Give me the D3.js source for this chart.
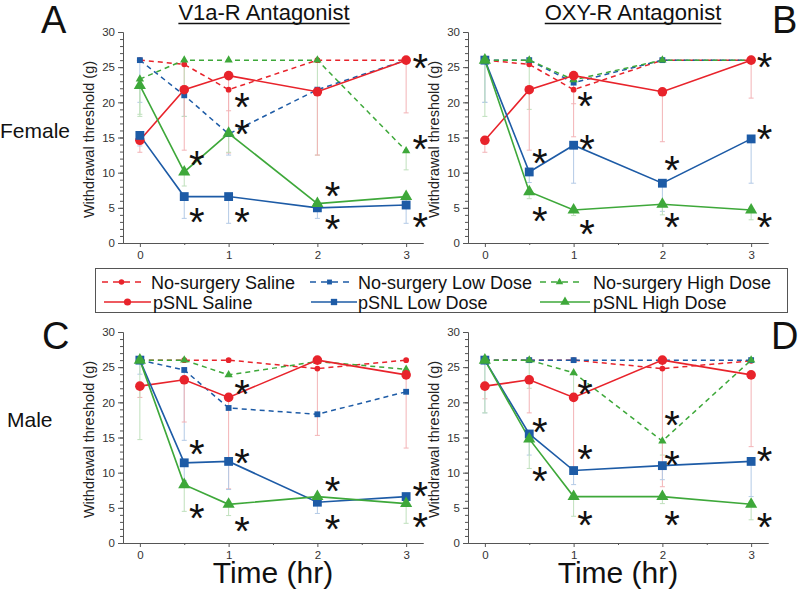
<!DOCTYPE html>
<html><head><meta charset="utf-8">
<script src="https://cdn.jsdelivr.net/npm/d3@7"></script>
<style>
html,body{margin:0;padding:0;background:#fff;}
svg{display:block;font-family:"Liberation Sans",Arial,sans-serif;}
</style></head>
<body><svg id="chart" width="800" height="590"></svg>
<script>
// ---------- DATA ----------
const times = [0, 0.5, 1, 2, 3];
const seriesNames = ["No-surgery Saline", "No-surgery Low Dose", "No-surgery High Dose",
                     "pSNL Saline", "pSNL Low Dose", "pSNL High Dose"];
const xTickValues = [0, 1, 2, 3];
const yTickValues = [0, 5, 10, 15, 20, 25, 30];

// Panel A : Female, V1a-R antagonist
const A_nsSaline = [26, 25.4, 21.8, 26, 26];
const A_nsLow    = [26, 21.0, 15.5, 21.8, 26];
const A_nsHigh   = [23.3, 26, 26, 26, 13.1];
const A_pSaline  = [14.6, 21.8, 23.8, 21.5, 26];
const A_pLow     = [15.3, 6.6, 6.6, 5.0, 5.4];
const A_pHigh    = [22.4, 10.1, 15.6, 5.6, 6.6];
const A_nsSalineErr = [0, 3, 3, 0, 0];
const A_nsLowErr    = [6, 3, 3, 0, 0];
const A_nsHighErr   = [5, 8, 0, 13.5, 2.7];
const A_pSalineErr  = [1.7, 8.6, 11, 9, 7.5];
const A_pLowErr     = [1.5, 3.1, 3.8, 1.5, 2.6];
const A_pHighErr    = [4.4, 2, 2.7, 1, 1.5];
const A_starT = [0.64, 0.64, 1.15, 1.15, 1.15, 2.17, 2.17, 3.16, 3.16, 3.16];
const A_starV = [12.3, 4.2, 20.6, 16.8, 4.2, 8.0, 3.2, 26.1, 14.6, 3.5];

// Panel B : Female, OXY-R antagonist
const B_nsSaline = [26, 25.4, 21.8, 26, 26];
const B_nsLow    = [26, 26, 22.8, 26, 26];
const B_nsHigh   = [26, 26, 23.2, 26, 26];
const B_pSaline  = [14.6, 21.8, 23.8, 21.5, 26];
const B_pLow     = [26, 10.1, 13.9, 8.5, 14.8];
const B_pHigh    = [26, 7.3, 4.7, 5.5, 4.7];
const B_nsSalineErr = [0, 0, 2, 0, 0];
const B_nsLowErr    = [6, 0, 0, 0, 0];
const B_nsHighErr   = [0, 7, 0, 0, 0];
const B_pSalineErr  = [1.7, 8.6, 8.7, 7.1, 5.4];
const B_pLowErr     = [6, 1.5, 5.4, 4, 6.3];
const B_pHighErr    = [8, 1, 0.8, 1.5, 1.4];
const B_starT = [0.62, 0.62, 1.13, 1.15, 1.15, 2.11, 2.11, 3.15, 3.15, 3.15];
const B_starV = [12.7, 4.4, 20.8, 14.6, 2.5, 11.6, 3.5, 26.3, 16.1, 3.5];

// Panel C : Male, V1a-R antagonist
const C_nsSaline = [26, 26, 26, 24.8, 26];
const C_nsLow    = [26, 24.6, 19.2, 18.3, 21.5];
const C_nsHigh   = [26, 26, 23.9, 25.8, 24.7];
const C_pSaline  = [22.3, 23.2, 20.7, 26, 23.9];
const C_pLow     = [26, 11.4, 11.6, 5.8, 6.6];
const C_pHigh    = [26, 8.3, 5.5, 6.6, 5.6];
const C_nsSalineErr = [0, 0, 0, 9.5, 0];
const C_nsLowErr    = [2, 10, 0, 0, 0];
const C_nsHighErr   = [0, 0, 0, 0, 0];
const C_pSalineErr  = [1.6, 6, 13, 0, 10.4];
const C_pLowErr     = [0, 2.5, 4, 1.6, 1];
const C_pHighErr    = [11.3, 3.8, 1.6, 1, 2.8];
const C_starT = [0.64, 0.64, 1.15, 1.15, 1.15, 2.17, 2.17, 3.16, 3.16];
const C_starV = [13.9, 4.9, 22.5, 12.7, 3.0, 8.7, 3.2, 8.0, 3.5];

// Panel D : Male, OXY-R antagonist
const D_nsSaline = [26, 26, 26, 24.8, 25.9];
const D_nsLow    = [26, 26, 26, 26, 26];
const D_nsHigh   = [26, 26, 24.2, 14.5, 26];
const D_pSaline  = [22.3, 23.2, 20.7, 26, 23.9];
const D_pLow     = [26, 15.5, 10.3, 11.0, 11.6];
const D_pHigh    = [26, 14.8, 6.6, 6.6, 5.5];
const D_nsSalineErr = [0, 0, 0, 0, 0];
const D_nsLowErr    = [0, 0, 0, 0, 0];
const D_nsHighErr   = [0, 4, 3, 2, 0];
const D_pSalineErr  = [1.8, 4.7, 10.8, 18, 10.2];
const D_pLowErr     = [7.5, 3, 2, 2, 5];
const D_pHighErr    = [7.5, 4.2, 2.8, 1, 2.2];
const D_starT = [0.62, 0.62, 1.13, 1.13, 1.13, 2.11, 2.11, 2.11, 3.15, 3.15];
const D_starV = [17.0, 10.1, 22.5, 13.2, 3.9, 18.0, 12.3, 3.9, 13.0, 3.5];

// ---------- STYLE ----------
const RED = "#e8232b", BLUE = "#1d5ba6", GREEN = "#3ea83a";
const seriesStyle = [
  {color: RED,   dashed: true,  shape: d3.symbolCircle,   size: 26},
  {color: BLUE,  dashed: true,  shape: d3.symbolSquare,   size: 34},
  {color: GREEN, dashed: true,  shape: d3.symbolTriangle, size: 30},
  {color: RED,   dashed: false, shape: d3.symbolCircle,   size: 72},
  {color: BLUE,  dashed: false, shape: d3.symbolSquare,   size: 78},
  {color: GREEN, dashed: false, shape: d3.symbolTriangle, size: 64}
];
const errColor = [ "#f3b3b6", "#b3cae6", "#bfe0bc", "#f3b3b6", "#b3cae6", "#bfe0bc" ];

const panels = [
  {id: "A", left: 123, right: 423, top: 32, bottom: 243,
   vals: [A_nsSaline, A_nsLow, A_nsHigh, A_pSaline, A_pLow, A_pHigh],
   errs: [A_nsSalineErr, A_nsLowErr, A_nsHighErr, A_pSalineErr, A_pLowErr, A_pHighErr],
   starT: A_starT, starV: A_starV, showXTitle: false},
  {id: "B", left: 468, right: 768, top: 32, bottom: 243,
   vals: [B_nsSaline, B_nsLow, B_nsHigh, B_pSaline, B_pLow, B_pHigh],
   errs: [B_nsSalineErr, B_nsLowErr, B_nsHighErr, B_pSalineErr, B_pLowErr, B_pHighErr],
   starT: B_starT, starV: B_starV, showXTitle: false},
  {id: "C", left: 123, right: 423, top: 332, bottom: 543,
   vals: [C_nsSaline, C_nsLow, C_nsHigh, C_pSaline, C_pLow, C_pHigh],
   errs: [C_nsSalineErr, C_nsLowErr, C_nsHighErr, C_pSalineErr, C_pLowErr, C_pHighErr],
   starT: C_starT, starV: C_starV, showXTitle: true},
  {id: "D", left: 468, right: 768, top: 332, bottom: 543,
   vals: [D_nsSaline, D_nsLow, D_nsHigh, D_pSaline, D_pLow, D_pHigh],
   errs: [D_nsSalineErr, D_nsLowErr, D_nsHighErr, D_pSalineErr, D_pLowErr, D_pHighErr],
   starT: D_starT, starV: D_starV, showXTitle: true}
];

const svg = d3.select("#chart");
const AXIS = "#555";

panels.forEach(p => {
  const x = d3.scaleLinear().domain([-0.19, 3.19]).range([p.left, p.right]);
  const y = d3.scaleLinear().domain([0, 30]).range([p.bottom, p.top]);
  const g = svg.append("g");

  // axes
  const yMinor = g.append("g").attr("transform", `translate(${p.left},0)`)
    .call(d3.axisLeft(y).tickValues(d3.range(0, 31, 1)).tickSize(3).tickSizeOuter(0).tickFormat(""));
  const yMajor = g.append("g").attr("transform", `translate(${p.left},0)`)
    .call(d3.axisLeft(y).tickValues(yTickValues).tickSize(5).tickSizeOuter(0).tickPadding(3).tickFormat(d3.format("d")));
  const xMinor = g.append("g").attr("transform", `translate(0,${p.bottom})`)
    .call(d3.axisBottom(x).tickValues([0.5, 1.5, 2.5]).tickSize(2).tickSizeOuter(0).tickFormat(""));
  const xMajor = g.append("g").attr("transform", `translate(0,${p.bottom})`)
    .call(d3.axisBottom(x).tickValues(xTickValues).tickSize(4).tickSizeOuter(0).tickPadding(4).tickFormat(d3.format("d")));
  [yMinor, yMajor, xMinor, xMajor].forEach(a => {
    a.selectAll("path,line").attr("stroke", AXIS).attr("stroke-width", 1);
    a.selectAll("text").attr("fill", "#333").attr("font-size", 11.5)
      .attr("font-family", "'Liberation Sans',Arial,sans-serif");
  });

  // y-axis title
  g.append("text")
    .attr("transform", `translate(${p.left - 29},${(p.top + p.bottom) / 2 + 2}) rotate(-90)`)
    .attr("text-anchor", "middle").attr("font-size", 14.5).attr("fill", "#222")
    .text("Withdrawal threshold (g)");

  // error bars
  p.vals.forEach((vals, si) => {
    const errs = p.errs[si];
    const eg = g.append("g").attr("stroke", errColor[si]).attr("stroke-width", 1);
    vals.forEach((v, i) => {
      if (!errs[i]) return;
      const cx = x(times[i]);
      eg.append("line").attr("x1", cx).attr("x2", cx).attr("y1", y(v)).attr("y2", y(v - errs[i]));
      eg.append("line").attr("x1", cx - 2.5).attr("x2", cx + 2.5).attr("y1", y(v - errs[i])).attr("y2", y(v - errs[i]));
    });
  });

  // lines
  const line = d3.line().x((d, i) => x(times[i])).y(d => y(d));
  p.vals.forEach((vals, si) => {
    const st = seriesStyle[si];
    g.append("path").attr("d", line(vals)).attr("fill", "none")
      .attr("stroke", st.color).attr("stroke-width", st.dashed ? 1.5 : 1.6)
      .attr("stroke-dasharray", st.dashed ? "5,4" : null);
  });
  // markers
  p.vals.forEach((vals, si) => {
    const st = seriesStyle[si];
    const sym = d3.symbol().type(st.shape).size(st.size);
    g.append("g").selectAll("path").data(vals).join("path")
      .attr("d", sym)
      .attr("transform", (d, i) => `translate(${x(times[i])},${y(d)})`)
      .attr("fill", st.color);
  });

  // significance stars
  const fs = 40;
  g.append("g").selectAll("text").data(p.starT).join("text")
    .attr("x", d => x(d))
    .attr("y", (d, i) => y(p.starV[i]) + 0.575 * fs)
    .attr("text-anchor", "middle").attr("font-size", fs).attr("fill", "#111")
    .text("*");

  if (p.showXTitle) {
    g.append("text").attr("x", (p.left + p.right) / 2).attr("y", 583)
      .attr("text-anchor", "middle").attr("font-size", 30).attr("fill", "#111")
      .text("Time (hr)");
  }
});

// panel letters
const letters = [
  {t: "A", x: 41, y: 33},
  {t: "B", x: 772, y: 33},
  {t: "C", x: 42, y: 349},
  {t: "D", x: 771, y: 349}
];
letters.forEach(l => svg.append("text").attr("x", l.x).attr("y", l.y)
  .attr("font-size", 38).attr("fill", "#111").text(l.t));

// column titles with underline
[{t: "V1a-R Antagonist", cx: 264}, {t: "OXY-R Antagonist", cx: 633}].forEach(ti => {
  const tx = svg.append("text").attr("x", ti.cx).attr("y", 20).attr("text-anchor", "middle")
    .attr("font-size", 22).attr("fill", "#111").text(ti.t);
  const w = tx.node().getComputedTextLength();
  svg.append("line").attr("x1", ti.cx - w / 2).attr("x2", ti.cx + w / 2)
    .attr("y1", 23.5).attr("y2", 23.5).attr("stroke", "#111").attr("stroke-width", 1.5);
});

// row labels
svg.append("text").attr("x", 0).attr("y", 138).attr("font-size", 21).attr("fill", "#111").text("Female");
svg.append("text").attr("x", 7).attr("y", 427).attr("font-size", 21).attr("fill", "#111").text("Male");

// legend
const lg = svg.append("g");
lg.append("rect").attr("x", 95.5).attr("y", 268.5).attr("width", 692).attr("height", 44)
  .attr("fill", "#fff").attr("stroke", "#555").attr("stroke-width", 1);
const legendPos = [
  {x1: 102, x2: 141, tx: 151, y: 282},
  {x1: 310, x2: 349, tx: 358, y: 282},
  {x1: 540, x2: 579, tx: 593, y: 282},
  {x1: 104, x2: 151, tx: 153, y: 302},
  {x1: 311, x2: 357, tx: 358, y: 302},
  {x1: 540, x2: 590, tx: 593, y: 302}
];
seriesNames.forEach((name, si) => {
  const st = seriesStyle[si], lp = legendPos[si];
  lg.append("line").attr("x1", lp.x1).attr("x2", lp.x2).attr("y1", lp.y).attr("y2", lp.y)
    .attr("stroke", st.color).attr("stroke-width", 1.5)
    .attr("stroke-dasharray", st.dashed ? "6,5" : null);
  lg.append("path").attr("d", d3.symbol().type(st.shape).size(st.dashed ? 24 : 40)())
    .attr("transform", `translate(${(lp.x1 + lp.x2) / 2},${lp.y})`).attr("fill", st.color);
  lg.append("text").attr("x", lp.tx).attr("y", lp.y + 6.5).attr("font-size", 18).attr("fill", "#111").text(name);
});
</script>
</body></html>
